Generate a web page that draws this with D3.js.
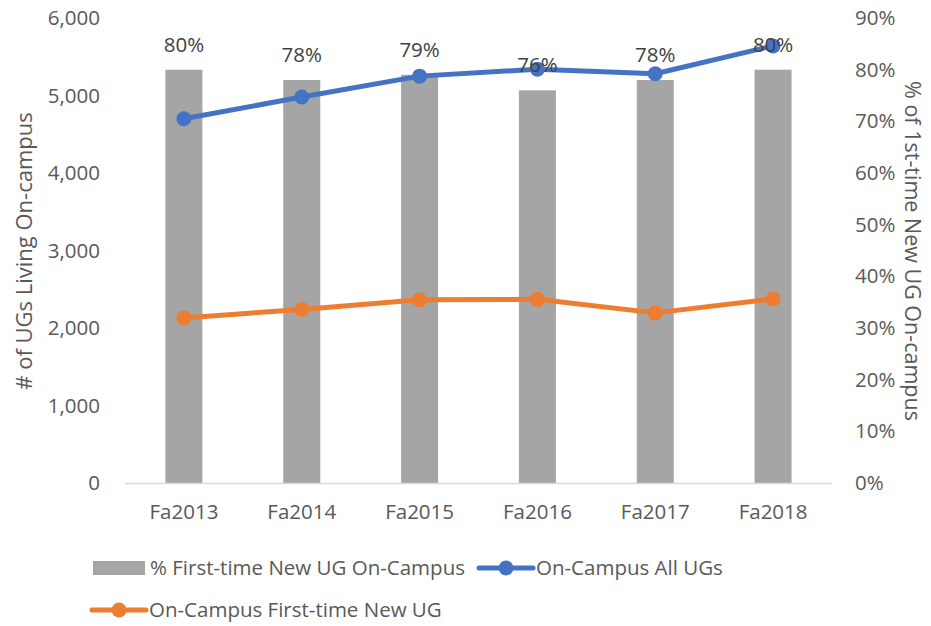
<!DOCTYPE html>
<html>
<head>
<meta charset="utf-8">
<script src="https://cdn.jsdelivr.net/npm/d3@7"></script>
<style>
  body { margin: 0; background: #fff; }
  svg { display: block; font-family: "Open Sans", "Noto Sans", sans-serif; }
</style>
</head>
<body>
<script>
"use strict";
// chart values
var years = ["Fa2013", "Fa2014", "Fa2015", "Fa2016", "Fa2017", "Fa2018"];
var pctFirstTime = [0.80, 0.78, 0.79, 0.76, 0.78, 0.80];
var allUGs = [4700, 4980, 5250, 5340, 5280, 5640];
var firstTimeUGs = [2130, 2240, 2365, 2370, 2195, 2375];
var leftTicks = [0, 1000, 2000, 3000, 4000, 5000, 6000];
var rightTicks = [0, 0.1, 0.2, 0.3, 0.4, 0.5, 0.6, 0.7, 0.8, 0.9];

(function () {
  var W = 931, H = 626;
  var plotL = 125, plotR = 832, plotT = 18, plotB = 483;
  var textColor = "#595959";

  var svg = d3.select("body").append("svg").attr("width", W).attr("height", H);

  var x = d3.scaleBand().domain(years).range([plotL, plotR]);
  var yL = d3.scaleLinear().domain([0, 6000]).range([plotB, plotT]);
  var yR = d3.scaleLinear().domain([0, 0.9]).range([plotB, plotT]);
  var barW = 37;

  // bars
  svg.append("g").selectAll("rect").data(years).join("rect")
    .attr("x", function (d) { return x(d) + x.bandwidth() / 2 - barW / 2; })
    .attr("y", function (d, i) { return yR(pctFirstTime[i]); })
    .attr("width", barW)
    .attr("height", function (d, i) { return plotB - yR(pctFirstTime[i]); })
    .attr("fill", "#a5a5a5");

  // baseline
  svg.append("line").attr("x1", plotL).attr("x2", plotR)
    .attr("y1", plotB + 0.5).attr("y2", plotB + 0.5)
    .attr("stroke", "#d9d9d9").attr("stroke-width", 1.5);

  // axes
  var axL = svg.append("g").attr("transform", "translate(" + (plotL - 22) + ",0)")
    .call(d3.axisLeft(yL).tickValues(leftTicks).tickFormat(d3.format(",")).tickSize(0));
  var axR = svg.append("g").attr("transform", "translate(" + (plotR + 20) + ",0)")
    .call(d3.axisRight(yR).tickValues(rightTicks).tickFormat(d3.format(".0%")).tickSize(0));
  var axB = svg.append("g").attr("transform", "translate(0," + plotB + ")")
    .call(d3.axisBottom(x).tickSize(0).tickPadding(21));
  [axL, axR, axB].forEach(function (a) {
    a.select(".domain").remove();
    a.selectAll("text").attr("fill", textColor).style("font-size", "20.5px")
      .style("font-family", "\"Open Sans\", sans-serif");
  });

  // axis titles
  svg.append("text").attr("transform", "translate(32,251) rotate(-90)")
    .attr("text-anchor", "middle").attr("fill", textColor).style("font-size", "22px")
    .text("# of UGs Living On-campus");
  svg.append("text").attr("transform", "translate(905,251) rotate(90)")
    .attr("text-anchor", "middle").attr("fill", textColor).style("font-size", "21.5px")
    .text("% of 1st-time New UG On-campus");

  var cx = function (d, i) { return x(years[i]) + x.bandwidth() / 2; };

  function series(vals, color) {
    var line = d3.line().x(cx).y(function (d) { return yL(d); });
    svg.append("path").datum(vals).attr("d", line)
      .attr("fill", "none").attr("stroke", color).attr("stroke-width", 5)
      .attr("stroke-linejoin", "round").attr("stroke-linecap", "round");
    svg.append("g").selectAll("circle").data(vals).join("circle")
      .attr("cx", cx).attr("cy", function (d) { return yL(d); })
      .attr("r", 7.5).attr("fill", color);
  }
  series(firstTimeUGs, "#ed7d31");
  series(allUGs, "#4472c4");

  // bar data labels
  svg.append("g").selectAll("text").data(pctFirstTime).join("text")
    .attr("x", cx).attr("y", function (d) { return yR(d) - 18; })
    .attr("text-anchor", "middle").attr("fill", "#404040").style("font-size", "20.5px")
    .text(d3.format(".0%"));

  // legend
  var lg = svg.append("g").style("font-size", "20.5px").attr("fill", textColor);
  lg.append("rect").attr("x", 93).attr("y", 561).attr("width", 52).attr("height", 14).attr("fill", "#a5a5a5");
  lg.append("text").attr("x", 150).attr("y", 575).text("% First-time New UG On-Campus");
  function legLine(x0, y0, color, label) {
    lg.append("line").attr("x1", x0).attr("x2", x0 + 54).attr("y1", y0).attr("y2", y0)
      .attr("stroke", color).attr("stroke-width", 5).attr("stroke-linecap", "round");
    lg.append("circle").attr("cx", x0 + 27).attr("cy", y0).attr("r", 7.5).attr("fill", color);
    lg.append("text").attr("x", x0 + 57).attr("y", y0 + 7).text(label);
  }
  legLine(479, 568, "#4472c4", "On-Campus All UGs");
  legLine(92, 610, "#ed7d31", "On-Campus First-time New UG");
}());
</script>
</body>
</html>
